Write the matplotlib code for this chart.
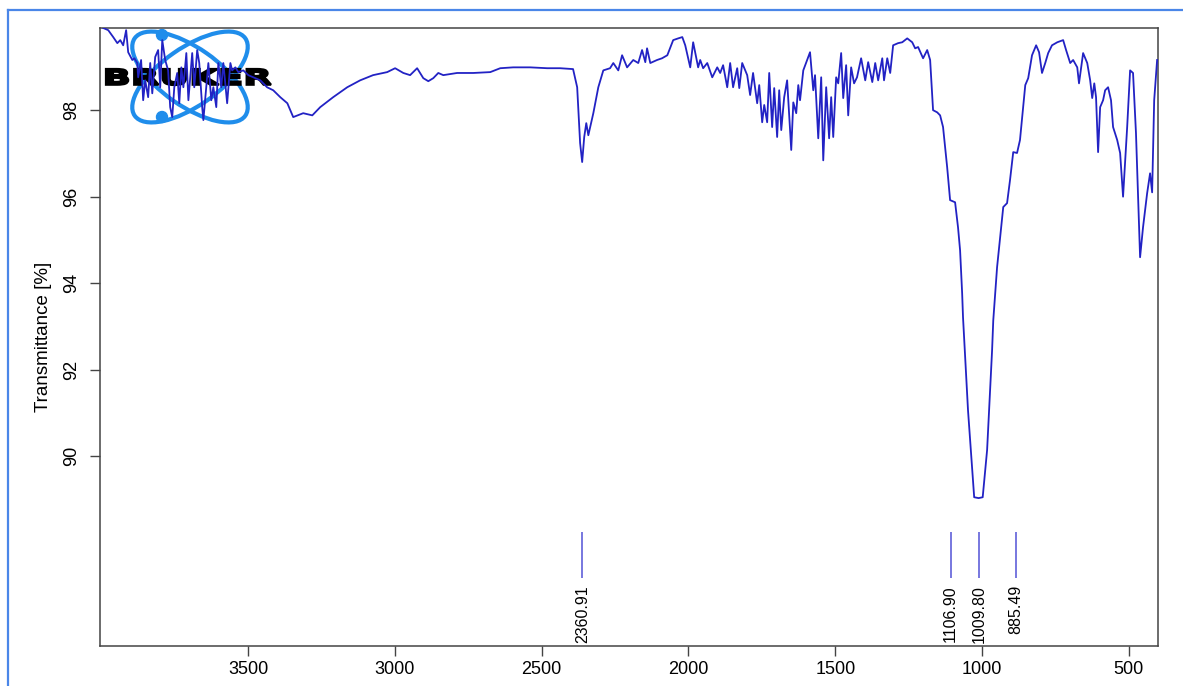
import matplotlib
matplotlib.use("Agg")
import matplotlib.pyplot as plt
from matplotlib.patches import Ellipse, Circle, PathPatch
from matplotlib.textpath import TextPath
from matplotlib.font_manager import FontProperties
from matplotlib.transforms import Affine2D
from matplotlib.lines import Line2D

plt.rcParams['font.family'] = ['Liberation Sans', 'DejaVu Sans']

# IR spectrum (wavenumber in cm-1, transmittance in %)
wavenumber = [
    3993, 3976, 3959, 3945, 3935, 3925, 3915, 3908, 3894, 3887,
    3877, 3874, 3864, 3857, 3850, 3840, 3833, 3826, 3816, 3806,
    3799, 3792, 3782, 3772, 3765, 3758, 3751, 3741, 3734, 3727,
    3720, 3710, 3703, 3690, 3683, 3673, 3666, 3656, 3652, 3642,
    3635, 3625, 3618, 3608, 3601, 3591, 3584, 3571, 3560, 3554,
    3543, 3533, 3516, 3499, 3482, 3458, 3435, 3414, 3390, 3366,
    3346,
    3312, 3281, 3254, 3210, 3162, 3118, 3074, 3026, 2999, 2971,
    2948, 2924, 2903, 2886, 2869, 2852, 2835, 2788, 2733, 2675,
    2641, 2597, 2539, 2481, 2437, 2393, 2379, 2369, 2362, 2355,
    2348, 2341, 2324, 2307, 2290, 2267, 2256, 2239, 2226, 2209,
    2188, 2171, 2158, 2147, 2141, 2130, 2107, 2090, 2072, 2052,
    2035, 2021, 2011, 1994, 1984, 1967,
    1960, 1950, 1936, 1919, 1902, 1892, 1882, 1868, 1858, 1848,
    1834, 1827, 1817, 1800, 1790, 1780, 1766, 1759, 1749, 1742,
    1732, 1725, 1715, 1708, 1698, 1691, 1684, 1674, 1664, 1650,
    1643, 1633, 1626, 1620, 1609, 1596, 1586, 1575, 1569, 1558,
    1548, 1541, 1531, 1521, 1514, 1507, 1497, 1490, 1480, 1473,
    1463, 1456, 1446, 1436, 1426, 1412, 1398, 1388, 1374, 1364,
    1354, 1340, 1334, 1323, 1313, 1303, 1286, 1272, 1255, 1238,
    1228, 1218, 1201, 1187, 1177,
    1167, 1153, 1143, 1133, 1119, 1109, 1092, 1082, 1075, 1068,
    1065, 1048, 1027, 1012, 998, 983, 966, 962, 949, 928,
    915, 905, 894, 881, 871, 853, 843, 830, 816, 806,
    796, 785, 775, 762, 744, 724, 714, 700, 690, 676,
    670, 656, 642, 632, 625, 618, 612, 605, 598, 588,
    581, 571, 561, 554, 540, 530, 520, 506, 496, 486,
    476, 462, 452, 438, 428, 421, 414, 404,
]
transmittance = [
    99.90, 99.85, 99.69, 99.55, 99.62, 99.50, 99.85, 99.34, 99.16, 99.20,
    99.09, 98.76, 99.16, 98.23, 98.69, 98.30, 99.09, 98.39, 99.23, 99.39,
    98.53, 99.62, 99.16, 98.92, 98.07, 97.84, 98.53, 98.86, 98.16, 98.99,
    98.53, 99.32, 98.23, 99.32, 98.53, 99.39, 99.09, 98.07, 97.77, 98.53,
    99.09, 98.23, 98.53, 98.07, 99.09, 98.53, 99.09, 98.16, 99.09, 98.92,
    98.99, 98.88, 98.92, 98.81, 98.76, 98.69, 98.53, 98.46, 98.30, 98.16,
    97.84,
    97.93, 97.88, 98.07, 98.30, 98.53, 98.69, 98.81, 98.88, 98.97, 98.86,
    98.81, 98.97, 98.74, 98.67, 98.74, 98.86, 98.81, 98.86, 98.86, 98.88,
    98.97, 98.99, 98.99, 98.97, 98.97, 98.95, 98.53, 97.24, 96.80, 97.38,
    97.70, 97.42, 97.93, 98.53, 98.92, 98.97, 99.09, 98.92, 99.27, 98.99,
    99.16, 99.09, 99.39, 99.11, 99.43, 99.09, 99.16, 99.20, 99.27, 99.62,
    99.66, 99.69, 99.50, 98.99, 99.57, 98.99,
    99.16, 98.97, 99.09, 98.76, 98.99, 98.86, 99.04, 98.53, 99.09, 98.53,
    98.97, 98.51, 99.09, 98.81, 98.35, 98.86, 98.16, 98.58, 97.72, 98.12,
    97.72, 98.86, 97.61, 98.51, 97.38, 98.46, 97.54, 98.30, 98.69, 97.08,
    98.18, 97.93, 98.58, 98.23, 98.92, 99.16, 99.34, 98.46, 98.81, 97.35,
    98.76, 96.84, 98.53, 97.35, 98.30, 97.38, 98.76, 98.62, 99.32, 98.28,
    99.04, 97.88, 98.99, 98.62, 98.76, 99.20, 98.69, 99.11, 98.65, 99.09,
    98.69, 99.20, 98.69, 99.20, 98.86, 99.50, 99.55, 99.57, 99.66, 99.57,
    99.43, 99.46, 99.20, 99.39, 99.16,
    98.00, 97.95, 97.88, 97.61, 96.68, 95.92, 95.87, 95.29, 94.76, 93.77,
    93.21, 91.06, 89.05, 89.03, 89.05, 90.14, 92.45, 93.14, 94.37, 95.76,
    95.85, 96.38, 97.03, 97.01, 97.31, 98.58, 98.74, 99.27, 99.50, 99.34,
    98.86, 99.09, 99.32, 99.50, 99.57, 99.62, 99.39, 99.09, 99.16, 98.99,
    98.62, 99.32, 99.09, 98.69, 98.28, 98.62, 98.30, 97.03, 98.07, 98.23,
    98.46, 98.53, 98.23, 97.61, 97.31, 97.01, 96.00, 97.61, 98.92, 98.86,
    97.47, 94.60, 95.29, 96.08, 96.54, 96.10, 98.23, 99.16,
]

peak_positions = [2360.91, 1106.90, 1009.80, 885.49]
peak_labels = ["2360.91", "1106.90", "1009.80", "885.49"]
x_ticks = [3500, 3000, 2500, 2000, 1500, 1000, 500]
y_ticks = [90, 92, 94, 96, 98]

assert len(wavenumber) == len(transmittance)

W, H = 1183, 686
fig = plt.figure(figsize=(W / 100, H / 100), dpi=100)
ax = fig.add_axes([100 / W, 40 / H, 1058 / W, 618 / H])

ax.plot(wavenumber, transmittance, color='#2222c4', lw=1.3, zorder=3)
ax.set_xlim(4004, 401)
ax.set_ylim(85.61, 99.90)

# peak picks
ax.vlines(peak_positions, 87.18, 88.24, color='#6c6cdc', lw=1.3, zorder=3)
for pos, lab in zip(peak_positions, peak_labels):
    ax.text(pos, 87.02, lab, rotation=90, ha='center', va='top', fontsize=11.5)

ax.set_xticks(x_ticks)
ax.set_yticks(y_ticks)
ax.tick_params(axis='both', direction='out', length=7, width=1.0, color='#444444',
               labelsize=13, pad=7)
ax.tick_params(axis='x', pad=4)
ax.tick_params(axis='y', labelrotation=90)
for lab in ax.get_yticklabels():
    lab.set_va('center')
ax.set_ylabel("Transmittance [%]", fontsize=13.5, labelpad=8)
for sp in ax.spines.values():
    sp.set_color('#444444')
    sp.set_linewidth(1.1)


# Bruker logo, placed in pixel units (origin top left)
def px(x, y):
    return (x / 100, (H - y) / 100)


logo_blue = '#1f8deb'
for ang in (-35, 35):
    ax.add_patch(Ellipse(px(190, 77), 1.35, 0.58, angle=ang, fill=False,
                         ec=logo_blue, lw=3, transform=fig.dpi_scale_trans, zorder=1))
for cy in (35, 117):
    ax.add_patch(Circle(px(162, cy), 0.055, color=logo_blue,
                        transform=fig.dpi_scale_trans, zorder=1))
tp = TextPath((0, 0), "BRUKER", size=1, prop=FontProperties(family='DejaVu Sans', weight='bold'))
ext = tp.get_extents()
x0, y0 = px(106, 85)
x1, y1 = px(271, 69)
tr = Affine2D().translate(-ext.x0, -ext.y0).scale((x1 - x0) / ext.width, (y1 - y0) / ext.height) \
    .translate(x0, y0) + fig.dpi_scale_trans
ax.add_patch(PathPatch(tp, transform=tr, fc='black', ec='black', lw=1.6, zorder=2))

# frame of the screenshot
border = '#4a86e8'
fig.add_artist(Line2D([8 / W, 1], [1 - 10 / H, 1 - 10 / H], transform=fig.transFigure,
                      color=border, lw=1.6))
fig.add_artist(Line2D([8 / W, 8 / W], [0, 1 - 10 / H], transform=fig.transFigure,
                      color=border, lw=1.6))

fig.savefig("out.png", dpi=100)
